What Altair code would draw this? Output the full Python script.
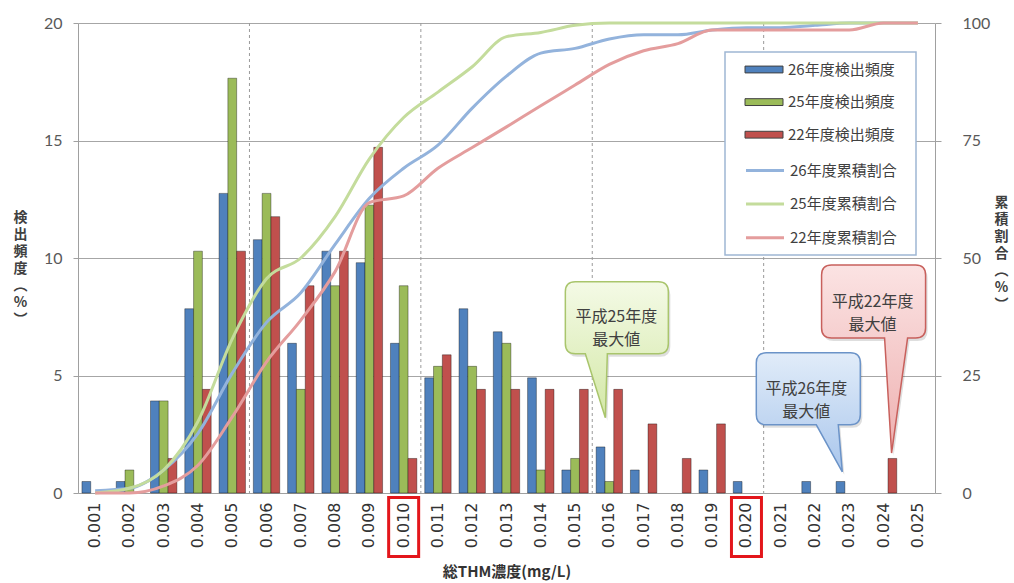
import altair as alt
import pandas as pd

cats = ["0.001", "0.002", "0.003", "0.004", "0.005", "0.006", "0.007", "0.008", "0.009", "0.010",
        "0.011", "0.012", "0.013", "0.014", "0.015", "0.016", "0.017", "0.018", "0.019", "0.020",
        "0.021", "0.022", "0.023", "0.024", "0.025"]

bar_series = ["26年度検出頻度", "25年度検出頻度", "22年度検出頻度"]
line_series = ["26年度累積割合", "25年度累積割合", "22年度累積割合"]

freq26 = [0.49, 0.49, 3.92, 7.84, 12.75, 10.78, 6.37, 10.29, 9.80, 6.37, 4.90, 7.84, 6.86, 4.90, 0.98,
          1.96, 0.98, 0, 0.98, 0.49, 0, 0.49, 0.49, 0, 0]
freq25 = [0, 0.98, 3.92, 10.29, 17.65, 12.75, 4.41, 8.82, 12.25, 8.82, 5.39, 5.39, 6.37, 0.98, 1.47,
          0.49, 0, 0, 0, 0, 0, 0, 0, 0, 0]
freq22 = [0, 0, 1.47, 4.41, 10.29, 11.76, 8.82, 10.29, 14.71, 1.47, 5.88, 4.41, 4.41, 4.41, 4.41,
          4.41, 2.94, 1.47, 2.94, 0, 0, 0, 0, 1.47, 0]

cum26 = [0.5, 1.0, 4.9, 12.7, 25.5, 36.3, 42.6, 52.9, 62.7, 69.1, 74.0, 81.9, 88.7, 93.6, 94.6,
         96.6, 97.5, 97.5, 98.5, 99.0, 99.0, 99.5, 100, 100, 100]
cum25 = [0, 1.0, 4.9, 15.2, 32.8, 45.6, 50.0, 58.8, 71.1, 79.9, 85.3, 90.7, 97.1, 98.0, 99.5,
         100, 100, 100, 100, 100, 100, 100, 100, 100, 100]
cum22 = [0, 0, 1.5, 5.9, 16.2, 27.9, 36.8, 47.1, 61.8, 63.2, 69.1, 73.5, 77.9, 82.4, 86.8,
         91.2, 94.1, 95.6, 98.5, 98.5, 98.5, 98.5, 98.5, 100, 100]

bar_colors = ["#4F81BD", "#9BBB59", "#C0504D"]
line_colors = ["#93B3DC", "#C4DC9C", "#E49D9D"]

divider_cats = ["0.005", "0.010", "0.015", "0.020"]
boxed_labels = ["0.010", "0.020"]

callout_texts = ["平成25年度\n最大値", "平成26年度\n最大値", "平成22年度\n最大値"]
callout_cats = ["0.016", "0.023", "0.024"]
callout_values = [3.2, 0.9, 1.7]

JP = "Noto Sans CJK JP"

bar_df = pd.DataFrame({
    "cat": cats * 3,
    "series": sum([[s] * len(cats) for s in bar_series], []),
    "value": freq26 + freq25 + freq22,
})
line_df = pd.DataFrame({
    "cat": cats * 3,
    "series": sum([[s] * len(cats) for s in line_series], []),
    "cum": cum26 + cum25 + cum22,
})

x_scale = alt.Scale(domain=cats, paddingInner=0.23, paddingOuter=0.115)
x_axis = alt.Axis(title="総THM濃度(mg/L)", labelAngle=-90, labelFont="DejaVu Sans", labelFontSize=16,
                  labelColor="#333333", labelPadding=9, ticks=False, domainColor="#a0a0a0",
                  titleFont=JP, titleFontSize=15, titleFontWeight="bold", titleColor="#333333",
                  titleY=78, titleBaseline="middle", labelOverlap=False)

y_left_axis = alt.Axis(title=["検", "出", "頻", "度", "︵", "%", "︶"], values=[0, 5, 10, 15, 20],
                       titleAngle=0, titleX=-58, titleY=194, titleAlign="center", titleBaseline="middle",
                       titleLineHeight=17, titleFont=JP, titleFontSize=14, titleFontWeight="bold",
                       titleColor="#404040", labelFont="Lato", labelFontSize=16, labelColor="#595959",
                       labelPadding=11, tickSize=5, tickColor="#a0a0a0", domainColor="#a0a0a0",
                       grid=True, gridColor="#a6a6a6")

y_right_axis = alt.Axis(title=["累", "積", "割", "合", "︵", "%", "︶"], values=[0, 25, 50, 75, 100],
                        orient="right", titleAngle=0, titleX=66, titleY=179, titleAlign="center",
                        titleBaseline="middle", titleLineHeight=17, titleFont=JP, titleFontSize=14,
                        titleFontWeight="bold", titleColor="#404040", labelFont="Lato", labelFontSize=16,
                        labelColor="#595959", labelPadding=21, tickSize=6, tickColor="#a0a0a0",
                        domainColor="#a0a0a0", grid=False)

rules = alt.Chart(pd.DataFrame({"cat": divider_cats})).mark_rule(
    color="#9a9a9a", strokeDash=[3, 3], strokeWidth=1, xOffset=4
).encode(x=alt.X("cat:N", bandPosition=1))

bars = alt.Chart(bar_df).transform_filter("datum.value > 0").mark_bar(
    stroke="#000000", strokeOpacity=0.45, strokeWidth=0.8
).encode(
    x=alt.X("cat:N", scale=x_scale, axis=x_axis),
    xOffset=alt.XOffset("series:N", sort=bar_series,
                        scale=alt.Scale(domain=bar_series, paddingInner=0, paddingOuter=0)),
    y=alt.Y("value:Q", scale=alt.Scale(domain=[0, 20], nice=False), axis=y_left_axis),
    fill=alt.Fill("series:N", scale=alt.Scale(domain=bar_series, range=bar_colors),
                  legend=alt.Legend(title=None, orient="none", legendX=676, legendY=36.5,
                                    symbolType="M-2,-0.36H2V0.36H-2Z", symbolSize=361,
                                    symbolStrokeColor="#404040", symbolStrokeWidth=1,
                                    labelFont=JP, labelFontSize=15, labelColor="#404040",
                                    rowPadding=14.6, padding=0, labelOffset=14)),
)

legend_box = alt.Chart(pd.DataFrame({"k": [0]})).mark_rect(
    fill="white", stroke="#9fb6d3", strokeWidth=1.5
).encode(x=alt.value(647), x2=alt.value(838), y=alt.value(29), y2=alt.value(232))


def bubble(L, R, T, B, a, b, tx, r=10):
    return (f"M{L + r},{T}H{R - r}Q{R},{T} {R},{T + r}V{B - r}Q{R},{B} {R - r},{B}"
            f"H{b}L{tx},0L{a},{B}H{L + r}Q{L},{B} {L},{B - r}V{T + r}Q{L},{T} {L + r},{T}Z")


callout_shapes = [
    bubble(-44, 59, -136, -64, -24, -2, -4),
    bubble(-93, 11, -119, -47, -33, -11, -7),
    bubble(-62, 42, -188, -115, 1, 24, 8),
]
callout_fills = [("#f4fae6", "#d3e8a6"), ("#e1ecf9", "#a9c6ec"), ("#fbe3e3", "#eeb0b0")]
callout_strokes = ["#a9c56c", "#6b93c8", "#c8605c"]
callout_text_off = [(7, -101), (-43, -83), (-11, -151)]

callouts = []
for i in range(3):
    cdf = pd.DataFrame({"cat": [callout_cats[i]], "value": [callout_values[i]], "t": [callout_texts[i]]})
    grad = alt.LinearGradient(gradient="linear",
                              stops=[alt.GradientStop(color=callout_fills[i][0], offset=0),
                                     alt.GradientStop(color=callout_fills[i][1], offset=1)],
                              x1=0, x2=0, y1=0, y2=1)
    shadow = alt.Chart(cdf).mark_point(
        shape=callout_shapes[i], size=4, filled=True, fill="#000000", strokeOpacity=0,
        opacity=0.13, xOffset=2, yOffset=3
    ).encode(x=alt.X("cat:N"), y=alt.Y("value:Q"))
    shape = alt.Chart(cdf).mark_point(
        shape=callout_shapes[i], size=4, filled=True, fill=grad, stroke=callout_strokes[i],
        strokeWidth=1.5, opacity=1
    ).encode(x=alt.X("cat:N"), y=alt.Y("value:Q"))
    txt = alt.Chart(cdf).mark_text(
        lineBreak="\n", lineHeight=23, font=JP, fontSize=16, color="#404040", align="center",
        baseline="middle", dx=callout_text_off[i][0], dy=callout_text_off[i][1]
    ).encode(x=alt.X("cat:N"), y=alt.Y("value:Q"), text="t:N")
    callouts += [shadow, shape, txt]

label_boxes = alt.Chart(pd.DataFrame({"cat": boxed_labels})).mark_point(
    shape="M-15,-29.5H15V29.5H-15Z", size=4, filled=False, stroke="#e3161b", strokeWidth=3, opacity=1
).encode(x=alt.X("cat:N"), y=alt.value(504))

inner = alt.layer(rules, bars, legend_box, *callouts, label_boxes)

lines = alt.Chart(line_df).mark_line(strokeWidth=3, interpolate="monotone").encode(
    x=alt.X("cat:N"),
    y=alt.Y("cum:Q", scale=alt.Scale(domain=[0, 100], nice=False), axis=y_right_axis),
    stroke=alt.Stroke("series:N", sort=line_series,
                      scale=alt.Scale(domain=line_series, range=line_colors),
                      legend=alt.Legend(title=None, orient="none", legendX=676, legendY=136.5,
                                        symbolType="M-2,0H2", symbolSize=361, symbolStrokeWidth=3,
                                        labelFont=JP, labelFontSize=15, labelColor="#404040",
                                        rowPadding=14.6, padding=0, labelOffset=14)),
)

chart = alt.layer(inner, lines).resolve_scale(y="independent").properties(
    width=857, height=470,
    padding={"left": 78, "top": 23, "right": 79, "bottom": 90},
    autosize=alt.AutoSizeParams(type="none"),
    background="white",
).configure_view(stroke=None)

chart.save("out.html", embed_options={"renderer": "svg", "actions": False})
